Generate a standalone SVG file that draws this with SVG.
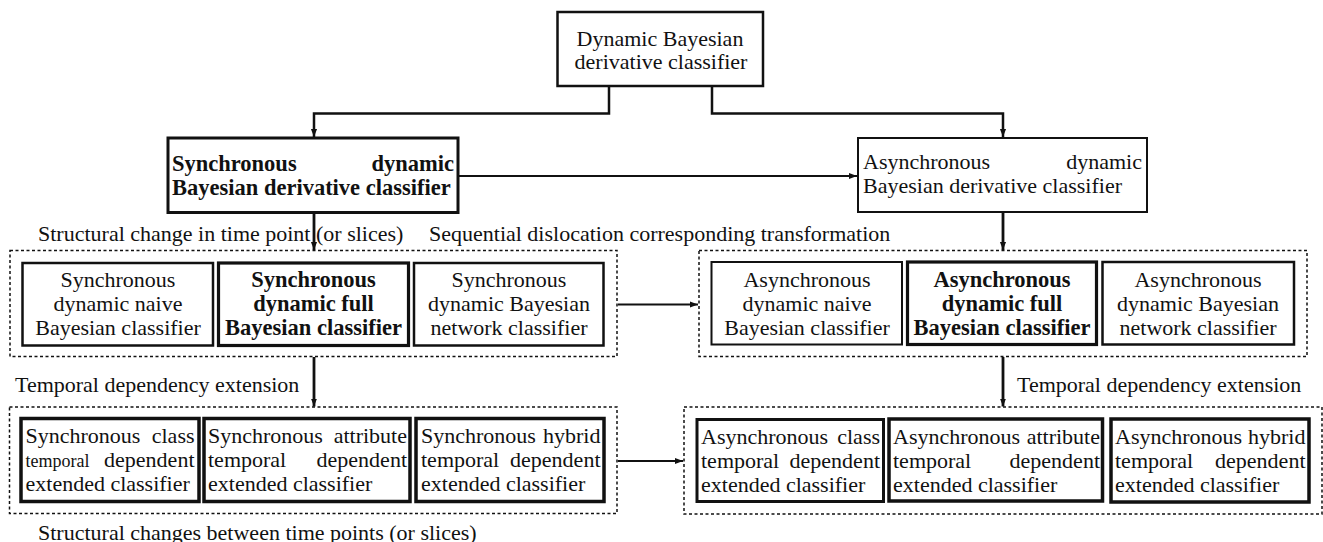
<svg xmlns="http://www.w3.org/2000/svg" width="1323" height="542" viewBox="0 0 1323 542">
  <style>
    .t { font-family: "Liberation Serif", "Times New Roman", serif; font-size: 22px; fill: #111; }
    .b { font-weight: bold; font-size: 22.5px; }
    .c { text-anchor: middle; }
    .e { text-anchor: end; }
    .sm { font-size: 18px; }
    .box { fill: #fff; stroke: #111; }
    .grp { fill: none; stroke: #111; stroke-width: 1.5; stroke-dasharray: 3 2.5; }
    .ln { fill: none; stroke: #111; }
  </style>
  <defs>
    <marker id="arr" viewBox="0 0 10 10" refX="10" refY="5" markerWidth="8" markerHeight="8" markerUnits="userSpaceOnUse" orient="auto">
      <path d="M0,1.2 L10,5 L0,8.8 z" fill="#111"/>
    </marker>
  </defs>
  <rect width="1323" height="542" fill="#fff"/>

  <!-- dotted groupings -->
  <g id="groups">
    <rect class="grp" x="10" y="250.5" width="607" height="106"/>
    <rect class="grp" x="699" y="250.5" width="608" height="106"/>
    <rect class="grp" x="9.5" y="407" width="607.5" height="106.5"/>
    <rect class="grp" x="684" y="407" width="638" height="107"/>
  </g>

  <!-- connectors -->
  <g id="connectors">
    <polyline class="ln" stroke-width="2.5" points="609,86 609,113.5 314,113.5 314,137" marker-end="url(#arr)"/>
    <polyline class="ln" stroke-width="2.5" points="712,86 712,113.5 1003,113.5 1003,137" marker-end="url(#arr)"/>
    <line class="ln" stroke-width="1.8" x1="458" y1="176" x2="857" y2="176" marker-end="url(#arr)"/>
    <line class="ln" stroke-width="2.8" x1="314" y1="213" x2="314" y2="250" marker-end="url(#arr)"/>
    <line class="ln" stroke-width="2.8" x1="1003" y1="213" x2="1003" y2="250" marker-end="url(#arr)"/>
    <line class="ln" stroke-width="2" x1="618" y1="304.5" x2="698" y2="304.5" marker-end="url(#arr)"/>
    <line class="ln" stroke-width="2.8" x1="314" y1="357" x2="314" y2="406.5" marker-end="url(#arr)"/>
    <line class="ln" stroke-width="2.8" x1="1003" y1="357" x2="1003" y2="406.5" marker-end="url(#arr)"/>
    <line class="ln" stroke-width="2" x1="618" y1="461" x2="683" y2="461" marker-end="url(#arr)"/>
  </g>

  <!-- free labels -->
  <g id="labels">
    <text class="t" x="38" y="241">Structural change in time point (or slices)</text>
    <text class="t" x="429" y="241">Sequential dislocation corresponding transformation</text>
    <text class="t" x="15" y="391.5">Temporal dependency extension</text>
    <text class="t" x="1017" y="391.5">Temporal dependency extension</text>
    <text class="t" x="38" y="539.5">Structural changes between time points (or slices)</text>
  </g>

  <!-- root -->
  <g id="n-root">
    <rect class="box" stroke-width="2.5" x="557.5" y="12" width="205.5" height="74"/>
    <text class="t c" x="660" y="46">Dynamic Bayesian</text>
    <text class="t c" x="661" y="69">derivative classifier</text>
  </g>

  <!-- second level -->
  <g id="n-sync">
    <rect class="box" stroke-width="3" x="168" y="138" width="290" height="74.5"/>
    <text class="t b" x="172" y="171">Synchronous</text>
    <text class="t b e" x="454" y="171">dynamic</text>
    <text class="t b" x="172" y="195">Bayesian derivative classifier</text>
  </g>
  <g id="n-async">
    <rect class="box" stroke-width="2" x="858" y="138" width="289" height="74"/>
    <text class="t" x="863" y="169">Asynchronous</text>
    <text class="t e" x="1142" y="169">dynamic</text>
    <text class="t" x="863" y="193">Bayesian derivative classifier</text>
  </g>

  <!-- synchronous model family -->
  <g id="n-sync-naive">
    <rect class="box" stroke-width="2.5" x="22.5" y="263" width="190.5" height="82.5"/>
    <text class="t c" x="118" y="287">Synchronous</text>
    <text class="t c" x="118" y="311">dynamic naive</text>
    <text class="t c" x="118" y="335">Bayesian classifier</text>
  </g>
  <g id="n-sync-full">
    <rect class="box" stroke-width="3.2" x="218.5" y="263" width="190" height="82.5"/>
    <text class="t b c" x="313.5" y="287">Synchronous</text>
    <text class="t b c" x="313.5" y="311">dynamic full</text>
    <text class="t b c" x="313.5" y="335">Bayesian classifier</text>
  </g>
  <g id="n-sync-net">
    <rect class="box" stroke-width="2.5" x="414" y="263" width="189.5" height="82.5"/>
    <text class="t c" x="509" y="287">Synchronous</text>
    <text class="t c" x="509" y="311">dynamic Bayesian</text>
    <text class="t c" x="509" y="335">network classifier</text>
  </g>

  <!-- asynchronous model family -->
  <g id="n-async-naive">
    <rect class="box" stroke-width="2" x="711.5" y="262" width="190.5" height="82.5"/>
    <text class="t c" x="807" y="287">Asynchronous</text>
    <text class="t c" x="807" y="311">dynamic naive</text>
    <text class="t c" x="807" y="335">Bayesian classifier</text>
  </g>
  <g id="n-async-full">
    <rect class="box" stroke-width="3.2" x="907.5" y="262" width="189" height="82.5"/>
    <text class="t b c" x="1002" y="287">Asynchronous</text>
    <text class="t b c" x="1002" y="311">dynamic full</text>
    <text class="t b c" x="1002" y="335">Bayesian classifier</text>
  </g>
  <g id="n-async-net">
    <rect class="box" stroke-width="2.5" x="1102.5" y="262" width="191.5" height="82.5"/>
    <text class="t c" x="1198" y="287">Asynchronous</text>
    <text class="t c" x="1198" y="311">dynamic Bayesian</text>
    <text class="t c" x="1198" y="335">network classifier</text>
  </g>

  <!-- synchronous temporal extensions -->
  <g id="n-sync-class">
    <rect class="box" stroke-width="3.5" x="21" y="418.5" width="178" height="83"/>
    <text class="t" x="25.5" y="443">Synchronous</text>
    <text class="t e" x="194.5" y="443">class</text>
    <text class="t sm" x="25.5" y="467">temporal</text>
    <text class="t e" x="194.5" y="467">dependent</text>
    <text class="t" x="25.5" y="491">extended classifier</text>
  </g>
  <g id="n-sync-attr">
    <rect class="box" stroke-width="3.5" x="204" y="418.5" width="206" height="83"/>
    <text class="t" x="208" y="443">Synchronous</text>
    <text class="t e" x="407" y="443">attribute</text>
    <text class="t" x="208" y="467">temporal</text>
    <text class="t e" x="407" y="467">dependent</text>
    <text class="t" x="208" y="491">extended classifier</text>
  </g>
  <g id="n-sync-hybrid">
    <rect class="box" stroke-width="3.5" x="416" y="418.5" width="188" height="83"/>
    <text class="t" x="421" y="443">Synchronous</text>
    <text class="t e" x="600.5" y="443">hybrid</text>
    <text class="t" x="421" y="467">temporal</text>
    <text class="t e" x="600.5" y="467">dependent</text>
    <text class="t" x="421" y="491">extended classifier</text>
  </g>

  <!-- asynchronous temporal extensions -->
  <g id="n-async-class">
    <rect class="box" stroke-width="3" x="697" y="419.5" width="186.5" height="82"/>
    <text class="t" x="701" y="444">Asynchronous</text>
    <text class="t e" x="880" y="444">class</text>
    <text class="t" x="701" y="468">temporal</text>
    <text class="t e" x="880" y="468">dependent</text>
    <text class="t" x="701" y="492">extended classifier</text>
  </g>
  <g id="n-async-attr">
    <rect class="box" stroke-width="3.5" x="889" y="419" width="213.5" height="82"/>
    <text class="t" x="893" y="444">Asynchronous</text>
    <text class="t e" x="1100" y="444">attribute</text>
    <text class="t" x="893" y="468">temporal</text>
    <text class="t e" x="1100" y="468">dependent</text>
    <text class="t" x="893" y="492">extended classifier</text>
  </g>
  <g id="n-async-hybrid">
    <rect class="box" stroke-width="3.5" x="1111" y="419" width="198" height="83"/>
    <text class="t" x="1115" y="444">Asynchronous</text>
    <text class="t e" x="1305.5" y="444">hybrid</text>
    <text class="t" x="1115" y="468">temporal</text>
    <text class="t e" x="1305.5" y="468">dependent</text>
    <text class="t" x="1115" y="492">extended classifier</text>
  </g>
</svg>
